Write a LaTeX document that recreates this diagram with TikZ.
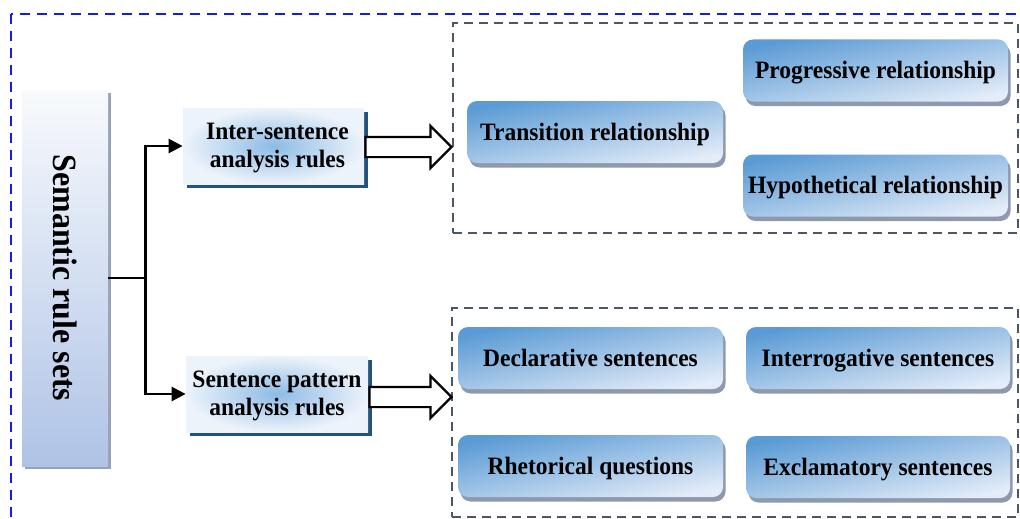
\documentclass[tikz,border=0pt]{standalone}
\usepackage{fontspec}
\setmainfont{Liberation Serif}[FakeStretch=0.94]
\usetikzlibrary{shapes,shapes.arrows,shadows,arrows.meta,calc,positioning}

\definecolor{itemtop}{HTML}{5B9BD5}
\definecolor{itembot}{HTML}{E3ECF8}
\definecolor{itemshd}{HTML}{8E99AD}
\definecolor{settop}{HTML}{F8FAFD}
\definecolor{setbot}{HTML}{AFC3E6}
\definecolor{setshd}{HTML}{98A2B6}
\definecolor{rulein}{HTML}{8DBBE6}
\definecolor{ruleout}{HTML}{EDF3FA}
\definecolor{ruleshd}{HTML}{24527E}
\definecolor{grpline}{HTML}{4B5668}
\definecolor{outline}{HTML}{1A1AE6}

\begin{document}
\begin{tikzpicture}
   [x=1pt,y=-1pt,thick,
   every node/.style={inner sep=0pt,align=center,
      font=\bfseries\fontsize{25}{28}\selectfont},
   setbox/.style={top color=settop,bottom color=setbot,
      minimum width=86pt,minimum height=376pt,
      drop shadow={shadow xshift=3pt,shadow yshift=-3pt,fill=setshd,opacity=1}},
   rulebox/.style={shading=radial,inner color=rulein,outer color=ruleout,
      minimum width=181pt,minimum height=76pt,
      drop shadow={shadow xshift=3.5pt,shadow yshift=-3.5pt,fill=ruleshd,opacity=1}},
   itembox/.style={rounded corners=10pt,top color=itemtop,bottom color=itembot,
      shading angle=12,minimum width=265pt,minimum height=62pt,
      text height=16.5pt,text depth=0pt,
      drop shadow={shadow xshift=2.5pt,shadow yshift=-4.5pt,fill=itemshd,opacity=1}},
   groupbox/.style={draw=grpline,line width=2.8pt,dash pattern=on 9pt off 6pt},
   bigarrow/.style={single arrow,draw,fill=white,line width=2.2pt,inner sep=9pt,
      single arrow head extend=11pt,single arrow tip angle=90,anchor=tail},
   fork/.style={line width=2.6pt,-{Triangle[length=14pt,width=14pt]}}]

   \useasboundingbox (0,0) rectangle (1020,519);
   \draw[outline,line width=2.8pt,dash pattern=on 10pt off 7pt] (11,14) rectangle (1026,530);

   % left column
   \node[setbox] (srs) at (65,278) {};
   \node[rotate=-90,font=\bfseries\fontsize{34}{36}\selectfont] (srst) at (srs) {Semantic rule sets};

   \node[rulebox] (isr) at (273.5,146) {};
   \node[rulebox,minimum width=182pt] (spr) at (277,394) {};
   \node (isrt) at ($(isr)+(4,2)$) {Inter-sentence\\analysis rules};
   \node (sprt) at ($(spr)+(0,2)$) {Sentence pattern\\analysis rules};

   \draw[line width=2.6pt] (srs.east) -- ++(37,0) coordinate (split);
   \foreach \n in {isr,spr}
      \draw[fork] (split) |- (\n.west);

   % right groups
   \node[groupbox,minimum width=565pt,minimum height=210pt] (g1) at (735.5,128) {};
   \node[groupbox,minimum width=566pt,minimum height=209pt] (g2) at (735,412.5) {};

   \node[bigarrow,minimum height=86pt] (a1) at ($(isr.east)+(0,1)$) {};
   \node[bigarrow,minimum height=82pt] (a2) at ($(spr.east)+(0,3)$) {};

   \node[itembox,minimum width=256pt] (tr) at (595,132) {Transition relationship};
   \node[itembox] (pr) at (875.5,70.5) {Progressive relationship};
   \node[itembox] (hr) at (875.5,185.5) {Hypothetical relationship};

   \node[itembox] (ds) at (590.5,358) {Declarative sentences};
   \node[itembox] (rq) at (590.5,466) {Rhetorical questions};
   \node[itembox,minimum width=264pt] (is) at (878,358) {Interrogative sentences};
   \node[itembox,minimum width=264pt] (es) at (878,467) {Exclamatory sentences};
\end{tikzpicture}
\end{document}
